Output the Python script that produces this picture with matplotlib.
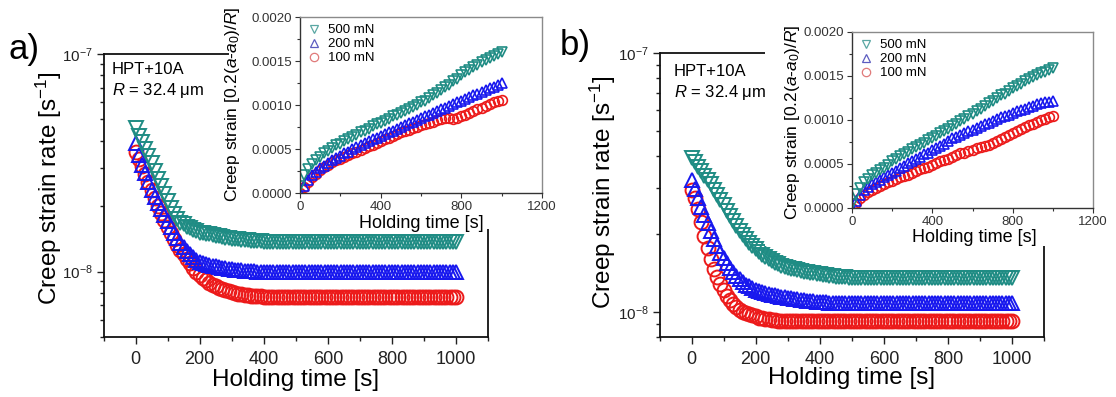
import matplotlib
matplotlib.use("Agg")
import matplotlib.pyplot as plt
from matplotlib.patches import Rectangle
from matplotlib.lines import Line2D
from matplotlib.ticker import MultipleLocator, LogLocator, NullFormatter, FormatStrFormatter

plt.rcParams['font.family'] = ['Liberation Sans', 'DejaVu Sans']
plt.rcParams['mathtext.fontset'] = 'custom'
plt.rcParams['mathtext.rm'] = 'Liberation Sans'
plt.rcParams['mathtext.it'] = 'Liberation Sans:italic'
plt.rcParams['mathtext.bf'] = 'Liberation Sans:bold'

# ---------------- data ----------------
loads = ['500 mN', '200 mN', '100 mN']
panel_labels = ['a)', 'b)']
sample_text = 'HPT+10A'
radius_text = '$R$ = 32.4 μm'

time_rate = list(range(0, 1001, 10))     # s
time_strain = list(range(0, 1001, 20))   # s

# creep strain rate, units of 1e-8 s^-1  (panel a)
rate_a_500 = [4.55, 4.22, 3.92, 3.64, 3.38, 3.14, 2.90, 2.67, 2.46, 2.27,
              2.10, 1.96, 1.84, 1.75, 1.68, 1.65, 1.61, 1.58, 1.55, 1.53,
              1.51, 1.50, 1.49, 1.48, 1.47, 1.46, 1.45, 1.44, 1.43, 1.42,
              1.415, 1.41, 1.405, 1.40, 1.395, 1.39, 1.385, 1.38, 1.38, 1.375,
              1.37, 1.37, 1.365, 1.365, 1.36, 1.36, 1.36, 1.36, 1.36, 1.36,
              1.36, 1.36, 1.36, 1.36, 1.36, 1.36, 1.36, 1.36, 1.36, 1.36,
              1.36, 1.36, 1.36, 1.36, 1.36, 1.36, 1.36, 1.36, 1.36, 1.36,
              1.36, 1.36, 1.36, 1.36, 1.36, 1.36, 1.36, 1.36, 1.36, 1.36,
              1.36, 1.36, 1.36, 1.36, 1.36, 1.36, 1.36, 1.36, 1.36, 1.36,
              1.36, 1.36, 1.36, 1.36, 1.36, 1.36, 1.36, 1.36, 1.36, 1.36,
              1.36]
rate_a_200 = [3.90, 3.42, 3.10, 2.83, 2.58, 2.38, 2.20, 2.06, 1.94, 1.82,
              1.71, 1.60, 1.50, 1.42, 1.35, 1.29, 1.24, 1.20, 1.16, 1.13,
              1.11, 1.095, 1.08, 1.07, 1.06, 1.055, 1.05, 1.04, 1.035, 1.03,
              1.025, 1.02, 1.02, 1.015, 1.01, 1.01, 1.005, 1.005, 1.00, 1.00,
              1.00, 1.00, 1.00, 1.00, 1.00, 1.00, 1.00, 1.00, 1.00, 1.00,
              1.00, 1.00, 1.00, 1.00, 1.00, 1.00, 1.00, 1.00, 1.00, 1.00,
              1.00, 1.00, 1.00, 1.00, 1.00, 1.00, 1.00, 1.00, 1.00, 1.00,
              1.00, 1.00, 1.00, 1.00, 1.00, 1.00, 1.00, 1.00, 1.00, 1.00,
              1.00, 1.00, 1.00, 1.00, 1.00, 1.00, 1.00, 1.00, 1.00, 1.00,
              1.00, 1.00, 1.00, 1.00, 1.00, 1.00, 1.00, 1.00, 1.00, 1.00,
              1.00]
rate_a_100 = [3.55, 3.30, 3.05, 2.80, 2.58, 2.37, 2.18, 2.00, 1.85, 1.72,
              1.60, 1.50, 1.41, 1.33, 1.26, 1.20, 1.14, 1.09, 1.04, 1.00,
              0.965, 0.935, 0.91, 0.89, 0.87, 0.855, 0.842, 0.83, 0.82, 0.81,
              0.802, 0.796, 0.79, 0.785, 0.782, 0.778, 0.775, 0.772, 0.77, 0.768,
              0.766, 0.765, 0.764, 0.763, 0.762, 0.762, 0.762, 0.762, 0.762, 0.762,
              0.762, 0.762, 0.762, 0.762, 0.762, 0.762, 0.762, 0.762, 0.762, 0.762,
              0.762, 0.762, 0.762, 0.762, 0.762, 0.762, 0.762, 0.762, 0.762, 0.762,
              0.762, 0.762, 0.762, 0.762, 0.762, 0.762, 0.762, 0.762, 0.762, 0.762,
              0.762, 0.762, 0.762, 0.762, 0.762, 0.762, 0.762, 0.762, 0.762, 0.762,
              0.762, 0.762, 0.762, 0.762, 0.762, 0.762, 0.762, 0.762, 0.762, 0.762,
              0.762]

# creep strain rate, units of 1e-8 s^-1  (panel b)
rate_b_500 = [3.92, 3.78, 3.64, 3.50, 3.36, 3.24, 3.12, 2.97, 2.84, 2.71,
              2.58, 2.45, 2.34, 2.24, 2.15, 2.06, 1.98, 1.91, 1.85, 1.80,
              1.75, 1.70, 1.66, 1.63, 1.60, 1.57, 1.55, 1.53, 1.51, 1.495,
              1.48, 1.47, 1.46, 1.45, 1.44, 1.43, 1.42, 1.415, 1.41, 1.40,
              1.395, 1.39, 1.385, 1.38, 1.375, 1.37, 1.365, 1.36, 1.36, 1.355,
              1.355, 1.35, 1.35, 1.35, 1.35, 1.35, 1.35, 1.35, 1.35, 1.35,
              1.35, 1.35, 1.35, 1.35, 1.35, 1.35, 1.35, 1.35, 1.35, 1.35,
              1.35, 1.35, 1.35, 1.35, 1.35, 1.35, 1.35, 1.35, 1.35, 1.35,
              1.35, 1.35, 1.35, 1.35, 1.35, 1.35, 1.35, 1.35, 1.35, 1.35,
              1.35, 1.35, 1.35, 1.35, 1.35, 1.35, 1.35, 1.35, 1.35, 1.35,
              1.35]
rate_b_200 = [3.23, 2.98, 2.75, 2.55, 2.37, 2.21, 2.06, 1.92, 1.79, 1.69,
              1.61, 1.54, 1.48, 1.42, 1.38, 1.34, 1.30, 1.275, 1.255, 1.235,
              1.22, 1.205, 1.195, 1.185, 1.175, 1.165, 1.16, 1.15, 1.145, 1.14,
              1.135, 1.13, 1.125, 1.12, 1.115, 1.11, 1.105, 1.10, 1.10, 1.095,
              1.095, 1.09, 1.09, 1.085, 1.085, 1.08, 1.08, 1.08, 1.08, 1.08,
              1.08, 1.08, 1.08, 1.08, 1.08, 1.08, 1.08, 1.08, 1.08, 1.08,
              1.08, 1.08, 1.08, 1.08, 1.08, 1.08, 1.08, 1.08, 1.08, 1.08,
              1.08, 1.08, 1.08, 1.08, 1.08, 1.08, 1.08, 1.08, 1.08, 1.08,
              1.08, 1.08, 1.08, 1.08, 1.08, 1.08, 1.08, 1.08, 1.08, 1.08,
              1.08, 1.08, 1.08, 1.08, 1.08, 1.08, 1.08, 1.08, 1.08, 1.08,
              1.08]
rate_b_100 = [2.95, 2.75, 2.50, 2.22, 1.97, 1.76, 1.60, 1.47, 1.37, 1.28,
              1.21, 1.15, 1.11, 1.07, 1.04, 1.02, 1.00, 0.99, 0.98, 0.97,
              0.96, 0.95, 0.945, 0.94, 0.935, 0.93, 0.928, 0.926, 0.924, 0.922,
              0.92, 0.92, 0.92, 0.92, 0.92, 0.92, 0.92, 0.92, 0.92, 0.92,
              0.92, 0.92, 0.92, 0.92, 0.92, 0.92, 0.92, 0.92, 0.92, 0.92,
              0.92, 0.92, 0.92, 0.92, 0.92, 0.92, 0.92, 0.92, 0.92, 0.92,
              0.92, 0.92, 0.92, 0.92, 0.92, 0.92, 0.92, 0.92, 0.92, 0.92,
              0.92, 0.92, 0.92, 0.92, 0.92, 0.92, 0.92, 0.92, 0.92, 0.92,
              0.92, 0.92, 0.92, 0.92, 0.92, 0.92, 0.92, 0.92, 0.92, 0.92,
              0.92, 0.92, 0.92, 0.92, 0.92, 0.92, 0.92, 0.92, 0.92, 0.92,
              0.92]

# creep strain 0.2(a-a0)/R (insets)
strain_a_500 = [0.00008, 0.00020, 0.00027, 0.00033, 0.00037, 0.00041, 0.00045, 0.00048, 0.00051, 0.00054,
                0.00056, 0.00059, 0.00061, 0.00064, 0.00066, 0.00069, 0.00071, 0.00073, 0.00076, 0.00078,
                0.00080, 0.00082, 0.00084, 0.00087, 0.00089, 0.00091, 0.00093, 0.00096, 0.00098, 0.00100,
                0.00103, 0.00105, 0.00108, 0.00111, 0.00114, 0.00117, 0.00120, 0.00123, 0.00127, 0.00130,
                0.00134, 0.00137, 0.00140, 0.00143, 0.00146, 0.00149, 0.00151, 0.00153, 0.00156, 0.00158,
                0.00160]
strain_a_200 = [0.00000, 0.00008, 0.00015, 0.00020, 0.00024, 0.00028, 0.00031, 0.00034, 0.00037, 0.00040,
                0.00042, 0.00045, 0.00047, 0.00050, 0.00052, 0.00055, 0.00057, 0.00059, 0.00061, 0.00063,
                0.00065, 0.00067, 0.00069, 0.00071, 0.00073, 0.00075, 0.00077, 0.00079, 0.00081, 0.00083,
                0.00085, 0.00087, 0.00089, 0.00091, 0.00093, 0.00095, 0.00097, 0.00099, 0.00101, 0.00103,
                0.00105, 0.00107, 0.00109, 0.00111, 0.00113, 0.00115, 0.00117, 0.00119, 0.00121, 0.00123,
                0.00125]
strain_a_100 = [0.00000, 0.00007, 0.00013, 0.00018, 0.00022, 0.00026, 0.00029, 0.00032, 0.00035, 0.00037,
                0.00039, 0.00041, 0.00043, 0.00045, 0.00047, 0.00049, 0.00051, 0.00053, 0.00055, 0.00057,
                0.00059, 0.00061, 0.00063, 0.00065, 0.00067, 0.00069, 0.00070, 0.00072, 0.00074, 0.00075,
                0.00077, 0.00078, 0.00080, 0.00081, 0.00083, 0.00084, 0.00085, 0.00085, 0.00084, 0.00085,
                0.00087, 0.00089, 0.00091, 0.00093, 0.00095, 0.00097, 0.00099, 0.00101, 0.00103, 0.00105,
                0.00106]
strain_b_500 = [0.00005, 0.00016, 0.00023, 0.00029, 0.00033, 0.00037, 0.00040, 0.00043, 0.00046, 0.00049,
                0.00053, 0.00056, 0.00059, 0.00061, 0.00064, 0.00067, 0.00069, 0.00072, 0.00074, 0.00077,
                0.00080, 0.00082, 0.00085, 0.00088, 0.00090, 0.00093, 0.00096, 0.00099, 0.00101, 0.00104,
                0.00107, 0.00110, 0.00113, 0.00116, 0.00119, 0.00122, 0.00125, 0.00128, 0.00130, 0.00133,
                0.00136, 0.00139, 0.00141, 0.00144, 0.00147, 0.00149, 0.00151, 0.00153, 0.00155, 0.00157,
                0.00159]
strain_b_200 = [0.00000, 0.00008, 0.00015, 0.00020, 0.00024, 0.00027, 0.00030, 0.00032, 0.00035, 0.00037,
                0.00040, 0.00042, 0.00045, 0.00048, 0.00051, 0.00053, 0.00056, 0.00058, 0.00061, 0.00063,
                0.00066, 0.00068, 0.00071, 0.00073, 0.00076, 0.00079, 0.00081, 0.00083, 0.00085, 0.00087,
                0.00089, 0.00091, 0.00093, 0.00095, 0.00097, 0.00099, 0.00101, 0.00103, 0.00104, 0.00106,
                0.00108, 0.00110, 0.00111, 0.00113, 0.00115, 0.00116, 0.00118, 0.00119, 0.00120, 0.00121,
                0.00122]
strain_b_100 = [0.00000, 0.00006, 0.00011, 0.00015, 0.00018, 0.00021, 0.00023, 0.00025, 0.00027, 0.00029,
                0.00031, 0.00033, 0.00035, 0.00036, 0.00038, 0.00040, 0.00042, 0.00044, 0.00045, 0.00047,
                0.00049, 0.00051, 0.00053, 0.00055, 0.00056, 0.00058, 0.00060, 0.00062, 0.00063, 0.00065,
                0.00066, 0.00068, 0.00069, 0.00071, 0.00072, 0.00074, 0.00076, 0.00078, 0.00081, 0.00083,
                0.00085, 0.00088, 0.00090, 0.00092, 0.00094, 0.00096, 0.00098, 0.00100, 0.00101, 0.00103,
                0.00104]

# ---------------- styling ----------------
colors = {'500 mN': '#1f8c84', '200 mN': '#1818ee', '100 mN': '#ec1a1a'}
legend_colors = {'500 mN': '#5aa7a3', '200 mN': '#5c5cc0', '100 mN': '#e07a7a'}
markers = {'500 mN': 'v', '200 mN': '^', '100 mN': 'o'}

W, H = 1116, 397
fig = plt.figure(figsize=(W / 100, H / 100), dpi=100)


def fbox(x0, y0, x1, y1):
    return [x0 / W, 1 - y1 / H, (x1 - x0) / W, (y1 - y0) / H]


panels = [
    dict(main=fbox(103.6, 54, 488, 337), ylim=(5e-9, 1e-7),
         inset=fbox(300, 17, 542, 193),
         cover=fbox(229, 0, 560, 229),
         rates={'500 mN': rate_a_500, '200 mN': rate_a_200, '100 mN': rate_a_100},
         strains={'500 mN': strain_a_500, '200 mN': strain_a_200, '100 mN': strain_a_100},
         label_xy=(8, 49), text_xy=(112, 69), ylab_xy=(49, 188), xlab_xy=(296, 380),
         iylab_xy=(233, 104), ixlab_xy=(421, 223)),
    dict(main=fbox(659.6, 53, 1044, 337), ylim=(8e-9, 1e-7),
         inset=fbox(852, 32, 1093, 208),
         cover=fbox(765, 0, 1116, 246),
         rates={'500 mN': rate_b_500, '200 mN': rate_b_200, '100 mN': rate_b_100},
         strains={'500 mN': strain_b_500, '200 mN': strain_b_200, '100 mN': strain_b_100},
         label_xy=(560, 46), text_xy=(674, 72), ylab_xy=(603, 192), xlab_xy=(852, 378),
         iylab_xy=(793, 122), ixlab_xy=(974, 237)),
]

order = ['100 mN', '200 mN', '500 mN']

for p, plab in zip(panels, panel_labels):
    ax = fig.add_axes(p['main'])
    ax.set_zorder(0)
    for ld in order:
        ax.plot(time_rate, [v * 1e-8 for v in p['rates'][ld]], ls='none',
                marker=markers[ld], ms=10, mfc='none', mec=colors[ld], mew=1.4)
    ax.set_yscale('log')
    ax.set_xlim(-100, 1100)
    ax.set_ylim(*p['ylim'])
    ax.xaxis.set_major_locator(MultipleLocator(200))
    ax.xaxis.set_minor_locator(MultipleLocator(100))
    ax.yaxis.set_major_locator(LogLocator(base=10, numticks=10))
    ax.yaxis.set_minor_locator(LogLocator(base=10, subs=[2, 3, 4, 5, 6, 7, 8, 9], numticks=20))
    ax.yaxis.set_minor_formatter(NullFormatter())
    ax.tick_params(which='both', direction='out', width=1.0, colors='#222222')
    ax.tick_params(which='major', length=5)
    ax.tick_params(which='minor', length=3)
    ax.tick_params(axis='x', labelsize=13, pad=5)
    ax.tick_params(axis='y', labelsize=11, pad=3)
    for s in ax.spines.values():
        s.set_linewidth(1.3)
        s.set_color('#111111')

    fig.text(p['label_xy'][0] / W, 1 - p['label_xy'][1] / H, plab, fontsize=25,
             ha='left', va='center')
    tx, ty = p['text_xy']
    fig.text(tx / W, 1 - ty / H, sample_text, fontsize=12, ha='left', va='center')
    fig.text(tx / W, 1 - (ty + 21) / H, radius_text, fontsize=12, ha='left', va='center')
    fig.text(p['ylab_xy'][0] / W, 1 - p['ylab_xy'][1] / H, 'Creep strain rate [s$^{-1}$]',
             fontsize=17.5, rotation=90, ha='center', va='center')
    fig.text(p['xlab_xy'][0] / W, 1 - p['xlab_xy'][1] / H, 'Holding time [s]',
             fontsize=17.5, ha='center', va='center')

    # white area behind the inset
    fig.add_artist(Rectangle((p['cover'][0], p['cover'][1]), p['cover'][2], p['cover'][3],
                             transform=fig.transFigure, facecolor='white',
                             edgecolor='none', zorder=1))

    ins = fig.add_axes(p['inset'])
    ins.set_zorder(2)
    for ld in order:
        ins.plot(time_strain, p['strains'][ld], ls='none', marker=markers[ld], ms=7,
                 mfc='none', mec=colors[ld], mew=1.2)
    ins.set_xlim(0, 1200)
    ins.set_ylim(0, 0.002)
    ins.xaxis.set_major_locator(MultipleLocator(400))
    ins.xaxis.set_minor_locator(MultipleLocator(200))
    ins.yaxis.set_major_locator(MultipleLocator(0.0005))
    ins.yaxis.set_minor_locator(MultipleLocator(0.00025))
    ins.yaxis.set_major_formatter(FormatStrFormatter('%.4f'))
    ins.tick_params(which='both', direction='out', width=0.8, labelsize=9.5, pad=2,
                    colors='#333333')
    ins.tick_params(which='major', length=3.5)
    ins.tick_params(which='minor', length=2)
    for name, s in ins.spines.items():
        s.set_linewidth(1.0)
        s.set_color('#333333' if name in ('left', 'bottom') else '#8a8a8a')
    fig.text(p['iylab_xy'][0] / W, 1 - p['iylab_xy'][1] / H,
             'Creep strain [0.2($a$-$a_0$)/$R$]', fontsize=12.5, rotation=90,
             ha='center', va='center')
    fig.text(p['ixlab_xy'][0] / W, 1 - p['ixlab_xy'][1] / H, 'Holding time [s]',
             fontsize=13, ha='center', va='center')
    handles = [Line2D([], [], ls='none', marker=markers[ld], ms=6, mfc='none',
                      mec=legend_colors[ld], mew=0.9) for ld in loads]
    ins.legend(handles, loads, loc='upper left', frameon=False, fontsize=9.5,
               handlelength=1.0, handletextpad=0.6, labelspacing=0.12,
               borderaxespad=0.25, borderpad=0.3)

fig.savefig('out.png', dpi=100, facecolor='white')
